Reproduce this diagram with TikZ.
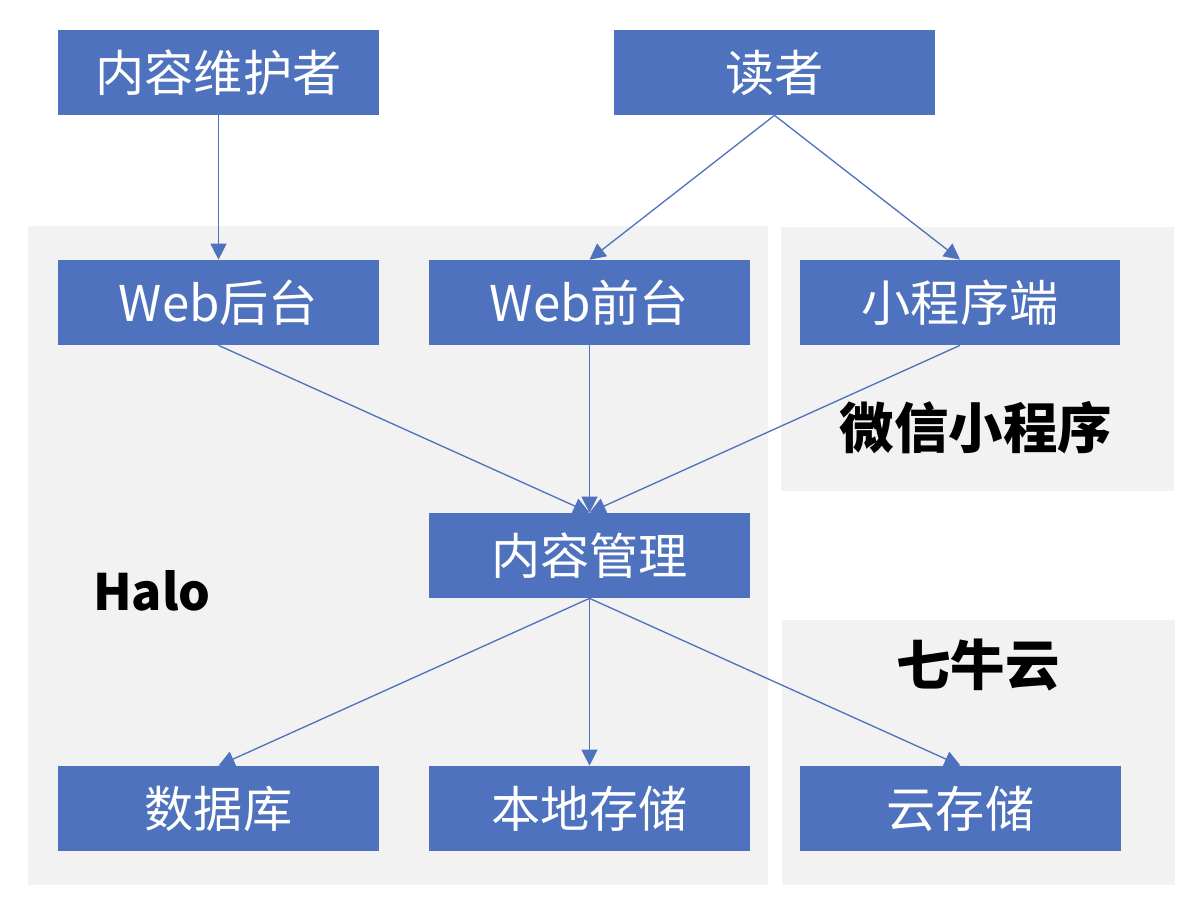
\documentclass[tikz,border=0pt]{standalone}
\usepackage{fontspec}
\setmainfont{Noto Sans CJK SC}
\usetikzlibrary{arrows.meta,positioning}
\usepackage{xcolor}
\definecolor{boxblue}{HTML}{4F72BE}
\definecolor{regiongray}{HTML}{F2F2F2}
\newcommand{\boxw}{6.42cm}
\newcommand{\boxh}{1.7cm}
\tikzset{
    boxsty/.style={fill=boxblue,rectangle,minimum width=\boxw,minimum height=\boxh,inner sep=0pt,text=white,font=\fontsize{28}{32}\selectfont,anchor=center},
    regionsty/.style={fill=regiongray},
    titlesty/.style={inner sep=0pt,font=\bfseries\fontsize{31}{36}\selectfont,anchor=center},
    arrsty/.style={draw=boxblue,line width=0.75pt,-{Triangle[length=0.32cm,width=0.32cm]}},
}

\begin{document}
\begin{tikzpicture}[x=0.02cm,y=-0.02cm]
  \useasboundingbox (0,0) rectangle (1200,913);
  % grey regions
  \fill[regionsty] (28,226) rectangle (768,885);
  \fill[regionsty] (781,227) rectangle (1174,491);
  \fill[regionsty] (782,620) rectangle (1175,885);

  \node[titlesty,font=\bfseries\fontsize{28.5}{34}\selectfont] (halo) at (152,591) {Halo};
  \node[titlesty] (wechat) at (976,428) {微信小程序};
  \node[titlesty] (qiniu) at (978,665) {七牛云};

  \node[boxsty] (maint) at (218.5,72.5) {内容维护者};
  \node[boxsty] (reader) at (774.5,72.5) {读者};
  \node[boxsty] (webadmin) at (218.5,302.5) {Web后台};
  \node[boxsty] (webfront) at (589.5,302.5) {Web前台};
  \node[boxsty] (miniapp) at (960,302.5) {小程序端};
  \node[boxsty] (content) at (589.5,555.5) {内容管理};
  \node[boxsty] (db) at (218.5,808.5) {数据库};
  \node[boxsty] (local) at (589.5,808.5) {本地存储};
  \node[boxsty] (cloud) at (960.5,808.5) {云存储};

  \draw[arrsty] (maint.south) -- (webadmin.north);
  \draw[arrsty] (reader.south) -- (webfront.north);
  \draw[arrsty] (reader.south) -- (miniapp.north);
  \draw[arrsty] (webadmin.south) -- (content.north);
  \draw[arrsty] (webfront.south) -- (content.north);
  \draw[arrsty] (miniapp.south) -- (content.north);
  \draw[arrsty] (content.south) -- (db.north);
  \draw[arrsty] (content.south) -- (local.north);
  \draw[arrsty] (content.south) -- (cloud.north);
\end{tikzpicture}
\end{document}
